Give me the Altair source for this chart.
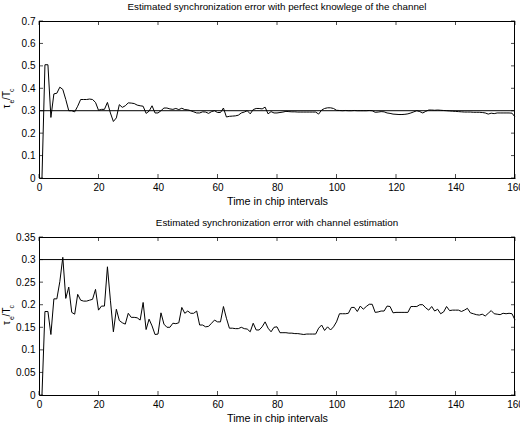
import altair as alt
import pandas as pd

t = list(range(1, 161))

perfect = [
    0.0, 0.505, 0.505, 0.27, 0.375, 0.378, 0.405, 0.395, 0.35, 0.30,
    0.30, 0.295, 0.32, 0.35, 0.35, 0.35, 0.352, 0.35, 0.337, 0.302,
    0.306, 0.306, 0.337, 0.29, 0.252, 0.268, 0.327, 0.315, 0.322, 0.335,
    0.334, 0.332, 0.325, 0.322, 0.32, 0.288, 0.298, 0.322, 0.29, 0.29,
    0.30, 0.312, 0.312, 0.308, 0.306, 0.31, 0.305, 0.311, 0.305, 0.304,
    0.30, 0.295, 0.29, 0.29, 0.295, 0.294, 0.288, 0.296, 0.30, 0.292,
    0.292, 0.312, 0.272, 0.275, 0.276, 0.277, 0.28, 0.29, 0.294, 0.30,
    0.286, 0.305, 0.31, 0.31, 0.308, 0.316, 0.286, 0.296, 0.29, 0.29,
    0.292, 0.294, 0.297, 0.296, 0.295, 0.295, 0.294, 0.294, 0.294, 0.294,
    0.294, 0.294, 0.294, 0.285, 0.303, 0.31, 0.313, 0.313, 0.31, 0.302,
    0.301, 0.30, 0.301, 0.30, 0.30, 0.301, 0.30, 0.30, 0.30, 0.30,
    0.301, 0.30, 0.293, 0.294, 0.296, 0.295, 0.29, 0.288, 0.285, 0.284,
    0.283, 0.283, 0.284, 0.286, 0.29, 0.295, 0.30, 0.296, 0.29, 0.297,
    0.303, 0.303, 0.302, 0.303, 0.302, 0.301, 0.30, 0.299, 0.298, 0.297,
    0.296, 0.295, 0.294, 0.294, 0.294, 0.293, 0.293, 0.293, 0.292, 0.29,
    0.285, 0.289, 0.287, 0.29, 0.29, 0.29, 0.29, 0.29, 0.289, 0.272,
]

estimated = [
    0.0, 0.185, 0.185, 0.134, 0.213, 0.213, 0.251, 0.305, 0.214, 0.239,
    0.183, 0.179, 0.223, 0.21, 0.208, 0.208, 0.21, 0.212, 0.234, 0.188,
    0.197, 0.197, 0.284, 0.21, 0.14, 0.19, 0.165, 0.16, 0.157, 0.181,
    0.172, 0.172, 0.171, 0.166, 0.205, 0.145, 0.168, 0.153, 0.134, 0.135,
    0.182, 0.157, 0.15, 0.15, 0.159, 0.158, 0.16, 0.194, 0.181, 0.186,
    0.181, 0.181, 0.186, 0.155, 0.155, 0.151, 0.152, 0.159, 0.166, 0.162,
    0.162, 0.196, 0.17, 0.148, 0.148, 0.147, 0.147, 0.15, 0.147, 0.146,
    0.14, 0.159, 0.144, 0.144, 0.151, 0.162, 0.148, 0.14, 0.15, 0.151,
    0.138, 0.138, 0.138, 0.137, 0.137, 0.136, 0.136, 0.135, 0.134, 0.135,
    0.135, 0.135, 0.135, 0.148, 0.155, 0.143, 0.151, 0.144, 0.151, 0.162,
    0.18, 0.18, 0.18, 0.181, 0.194, 0.194, 0.185, 0.197, 0.19, 0.196,
    0.201, 0.201, 0.183, 0.184, 0.186, 0.186, 0.197, 0.196, 0.182, 0.183,
    0.183, 0.183, 0.183, 0.183, 0.196, 0.196, 0.196, 0.20, 0.20, 0.193,
    0.188, 0.196, 0.186, 0.19, 0.18, 0.184, 0.196, 0.187, 0.188, 0.188,
    0.188, 0.185, 0.188, 0.192, 0.182, 0.18, 0.178, 0.177, 0.179, 0.175,
    0.181, 0.187, 0.18, 0.179, 0.178, 0.181, 0.18, 0.181, 0.18, 0.166,
]

ref_level = [0.3]
x_ticks = [0, 20, 40, 60, 80, 100, 120, 140, 160]
y_ticks_top = [0, 0.1, 0.2, 0.3, 0.4, 0.5, 0.6, 0.7]
y_ticks_bot = [0, 0.05, 0.1, 0.15, 0.2, 0.25, 0.3, 0.35]

title_top = "Estimated synchronization error with perfect knowlege of the channel"
title_bot = "Estimated synchronization error with channel estimation"
x_title = "Time in chip intervals"

FONT = "Liberation Sans"
W = 476
TICK = 4


def panel(vals, title, ymax, yticks, h):
    df = pd.DataFrame({"t": t, "v": vals})
    xs = alt.Scale(domain=[0, 160], nice=False, zero=False)
    ys = alt.Scale(domain=[0, ymax], nice=False, zero=False)

    common = dict(grid=False, ticks=False, domain=True, domainColor="black",
                  domainWidth=1, domainOpacity=1)
    x_bottom = alt.Axis(values=x_ticks, title=x_title, labelPadding=4,
                        titlePadding=3, format="d", labelFlush=False,
                        labelFont=FONT, labelFontSize=10, labelColor="black",
                        titleFont=FONT, titleFontSize=10.8,
                        titleFontWeight="normal", titleColor="black", **common)
    y_left = alt.Axis(values=yticks, title=None, labelPadding=4, format="~g",
                      labelFont=FONT, labelFontSize=10, labelColor="black",
                      **common)

    x_enc = alt.X("t:Q", scale=xs, axis=x_bottom)
    y_enc = alt.Y("v:Q", scale=ys, axis=y_left)

    line = alt.Chart(df).mark_line(color="black", strokeWidth=1).encode(
        x=x_enc, y=y_enc)

    ref = alt.Chart(pd.DataFrame({"v": ref_level})).mark_rule(
        color="black", strokeWidth=1).encode(y=y_enc)

    # top and right frame edges (crisp, half-pixel offset)
    edge_df = pd.DataFrame({"k": [0]})
    top_edge = alt.Chart(edge_df).mark_rule(color="black", strokeWidth=1).encode(
        x=alt.value(0), x2=alt.value(W), y=alt.value(0.5))
    right_edge = alt.Chart(edge_df).mark_rule(color="black", strokeWidth=1).encode(
        x=alt.value(W - 0.5), y=alt.value(0), y2=alt.value(h))

    xt = pd.DataFrame({"t": x_ticks})
    yt = pd.DataFrame({"v": yticks})
    xt_bot = alt.Chart(xt).mark_tick(color="black", thickness=1, size=TICK,
                                     orient="vertical").encode(
        x=x_enc, y=alt.value(h - TICK / 2))
    xt_top = alt.Chart(xt).mark_tick(color="black", thickness=1, size=TICK,
                                     orient="vertical").encode(
        x=x_enc, y=alt.value(TICK / 2))
    yt_left = alt.Chart(yt).mark_tick(color="black", thickness=1, size=TICK,
                                      orient="horizontal").encode(
        y=y_enc, x=alt.value(TICK / 2))
    yt_right = alt.Chart(yt).mark_tick(color="black", thickness=1, size=TICK,
                                       orient="horizontal").encode(
        y=y_enc, x=alt.value(W - TICK / 2))

    # y-axis label "τe/Tc" with subscripts, rotated
    yc = h / 2 - 1
    base_x = -29
    sub_x = -25
    start = yc + 10
    pieces = [
        ("τ", 10, base_x, start),
        ("e", 7, sub_x, start - 5.0),
        ("/T", 10, base_x, start - 8.6),
        ("c", 7, sub_x, start - 16.6),
    ]
    labels = []
    for txt, fs, px, py in pieces:
        labels.append(
            alt.Chart(pd.DataFrame({"s": [txt]})).mark_text(
                angle=270, align="left", baseline="alphabetic",
                font=FONT, fontSize=fs, color="black"
            ).encode(text="s:N", x=alt.value(px), y=alt.value(py))
        )

    return alt.layer(line, ref, top_edge, right_edge, xt_bot, xt_top,
                     yt_left, yt_right, *labels).properties(
        width=W, height=h,
        title=alt.TitleParams(title, font=FONT, fontSize=9.8, fontWeight="normal",
                              color="black", anchor="middle", offset=4),
    )


top = panel(perfect, title_top, 0.7, y_ticks_top, 157)
bot = panel(estimated, title_bot, 0.35, y_ticks_bot, 158)

chart = alt.vconcat(top, bot, spacing=59, bounds="flush").properties(
    padding={"left": 2, "top": 2, "right": -4, "bottom": 0},
    background="white",
).configure_view(
    stroke=None
)

chart.save("out.html", embed_options={"renderer": "svg", "actions": False})
